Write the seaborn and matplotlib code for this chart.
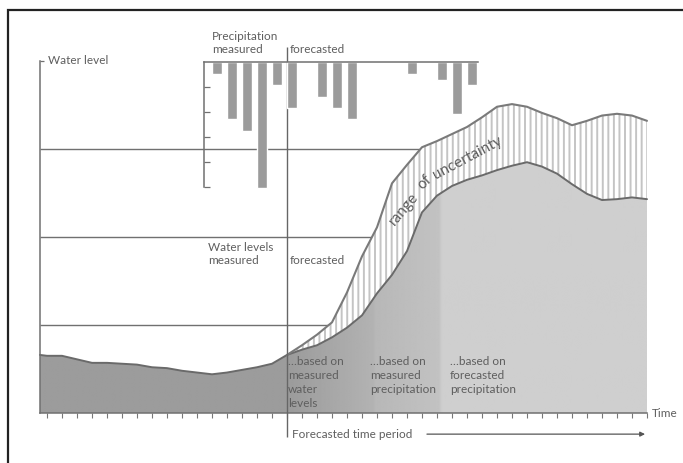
import numpy as np
import seaborn as sns
import matplotlib.pyplot as plt
from matplotlib.patches import Rectangle

# time steps (one tick per step); forecast starts at step 16
t_levels = [-0.47] + list(range(0, 41))
level_low = [0.66, 0.65, 0.65, 0.61, 0.57, 0.57, 0.56, 0.55, 0.52, 0.51, 0.48,
             0.46, 0.44, 0.46, 0.49, 0.52, 0.56, 0.66, 0.72, 0.77, 0.86, 0.97,
             1.11, 1.36, 1.57, 1.84, 2.28, 2.47, 2.58, 2.65, 2.70, 2.76, 2.81,
             2.85, 2.80, 2.72, 2.60, 2.49, 2.42, 2.43, 2.45, 2.43]
t_forecast = list(range(16, 41))
level_high = [0.66, 0.77, 0.89, 1.03, 1.37, 1.78, 2.11, 2.61, 2.82, 3.02, 3.09,
              3.17, 3.25, 3.36, 3.48, 3.51, 3.48, 3.41, 3.35, 3.27, 3.32, 3.38,
              3.40, 3.38, 3.32]

precip_t = list(range(11, 29))
precip = [0.48, 2.28, 2.76, 5.04, 0.92, 1.84, 0, 1.40, 1.84, 2.28, 0, 0, 0,
          0.48, 0, 0.72, 2.08, 0.92]

grid_levels = [1, 2, 3]
forecast_start = 16

sns.set_theme(style="white")
plt.rcParams["font.family"] = ["Lato", "DejaVu Sans"]
plt.rcParams["hatch.linewidth"] = 1.4

txt = "#5e5e5e"
line = "#707070"

fig = plt.figure(figsize=(6.83, 4.63), dpi=100)
ax = fig.add_axes([0, 0, 1, 1])
ax.set_facecolor("white")

# horizontal reference levels
ax.hlines(grid_levels, t_levels[0], t_levels[-1] - 0.2, color=line, lw=1, zorder=1)

# range of uncertainty (hatched)
ax.fill_between(t_forecast, np.interp(t_forecast, t_levels, level_low), level_high,
                facecolor="white", edgecolor="#c4c4c4", hatch="|||", lw=0, zorder=2)

# water level area with grey gradient
poly = ax.fill_between(t_levels, 0, level_low, color="none", lw=0, zorder=3)
grad_t = np.linspace(t_levels[0], t_levels[-1], 600)
shade = np.interp(grad_t, [-0.47, 16.2, 21.7, 21.9, 26.1, 26.3, 40],
                  [0.61, 0.61, 0.70, 0.72, 0.76, 0.81, 0.81])
im = ax.imshow(shade[None, :], extent=(t_levels[0], t_levels[-1], 0, 3.2),
               cmap="gray", vmin=0, vmax=1, aspect="auto",
               interpolation="bilinear", zorder=3)
im.set_clip_path(poly.get_paths()[0], transform=ax.transData)

sns.lineplot(x=t_levels, y=level_low, ax=ax, color="#6a6a6a", lw=1.4, zorder=4)
sns.lineplot(x=t_forecast, y=level_high, ax=ax, color="#7a7a7a", lw=1.5, zorder=4)

# forecast divider
ax.vlines(forecast_start, -0.27, 4.16, color="#666666", lw=1, zorder=6)

ax.set_xlim(-3.133, 42.4)
ax.set_ylim(-0.568, 4.693)
ax.set_xlabel("")
ax.set_ylabel("")
for s in ["top", "right"]:
    ax.spines[s].set_visible(False)
ax.spines["left"].set_position(("data", t_levels[0]))
ax.spines["left"].set_bounds(0, 4)
ax.spines["bottom"].set_position(("data", 0))
ax.spines["bottom"].set_bounds(t_levels[0], t_levels[-1])
for s in ["left", "bottom"]:
    ax.spines[s].set_color(line)
    ax.spines[s].set_linewidth(1.1)
    ax.spines[s].set_zorder(5)
ax.set_xticks(range(0, 41))
ax.set_yticks([4])
ax.tick_params(axis="x", direction="out", length=3.6, width=0.8, color="#777777",
               labelbottom=False, bottom=True)
ax.tick_params(axis="y", direction="in", length=3, width=0.9, color=line,
               labelleft=False, left=True)

# precipitation panel
axp = fig.add_axes([0, 0, 1, 1], zorder=2)
axp.set_facecolor("none")
sns.barplot(x=np.array(precip_t) + 0.335, y=precip, native_scale=True, width=0.67,
            color="#9b9b9b", saturation=1, errorbar=None, ax=axp)
axp.set_xlim(-3.133, 42.4)
axp.set_ylim(16.05, -2.468)
axp.set_xlabel("")
axp.set_ylabel("")
for s in ["bottom", "right"]:
    axp.spines[s].set_visible(False)
axp.spines["left"].set_position(("data", 10.47))
axp.spines["left"].set_bounds(0, 5)
axp.spines["top"].set_position(("data", 0))
axp.spines["top"].set_bounds(10.47, 28.73)
for s in ["left", "top"]:
    axp.spines[s].set_color(line)
    axp.spines[s].set_linewidth(1.1)
axp.set_xticks([])
axp.set_yticks([1, 2, 3, 4, 5])
axp.tick_params(axis="y", direction="in", length=4.3, width=0.9, color=line,
                labelleft=False, left=True)

# labels (va="baseline" anchors the last line of multi-line text)
fs = 8.5
ax.text(0.07, 4.0, "Water level", color=txt, fontsize=fs, ha="left", va="center")
ax.text(11.0, 4.088, "Precipitation\nmeasured", color=txt, fontsize=fs, ha="left",
        va="baseline", linespacing=1.25)
ax.text(16.2, 4.088, "forecasted", color=txt, fontsize=fs, ha="left", va="baseline")
ax.text(10.73, 1.693, "Water levels\nmeasured", color=txt, fontsize=fs, ha="left",
        va="baseline", linespacing=1.25)
ax.text(16.2, 1.693, "forecasted", color=txt, fontsize=fs, ha="left", va="baseline")
for tx, ty, label in [(16.07, 0.068, "…based on\nmeasured\nwater\nlevels"),
                      (21.53, 0.227, "…based on\nmeasured\nprecipitation"),
                      (26.87, 0.227, "…based on\nforecasted\nprecipitation")]:
    ax.text(tx, ty, label, color=txt, fontsize=fs, ha="left", va="baseline",
            linespacing=1.34, zorder=7)
ax.text(40.33, -0.01, "Time", color=txt, fontsize=fs, ha="left", va="center")
ax.text(16.33, -0.24, "Forecasted time period", color=txt, fontsize=fs, ha="left",
        va="center")
ax.annotate("", xy=(39.87, -0.24), xytext=(25.33, -0.24),
            arrowprops=dict(arrowstyle="-|>", color="#555555", lw=0.9,
                            mutation_scale=7, shrinkA=0, shrinkB=0))

# curved label following the uncertainty band, one word at a time
for tx, ty, rot, word in [(23.2, 2.125, 50, "range"),
                          (25.0, 2.534, 44, "of"),
                          (25.93, 2.659, 28, "uncertainty")]:
    ax.text(tx, ty, word, color=txt, fontsize=11, rotation=rot,
            rotation_mode="anchor", ha="left", va="baseline", zorder=7)

# outer frame
fig.add_artist(Rectangle((7.5 / 683, -0.1), 1.2, 1.1 - 10.5 / 463,
                         transform=fig.transFigure, fill=False, lw=1.6,
                         ec="#222222"))

fig.savefig("out.png", dpi=100)
